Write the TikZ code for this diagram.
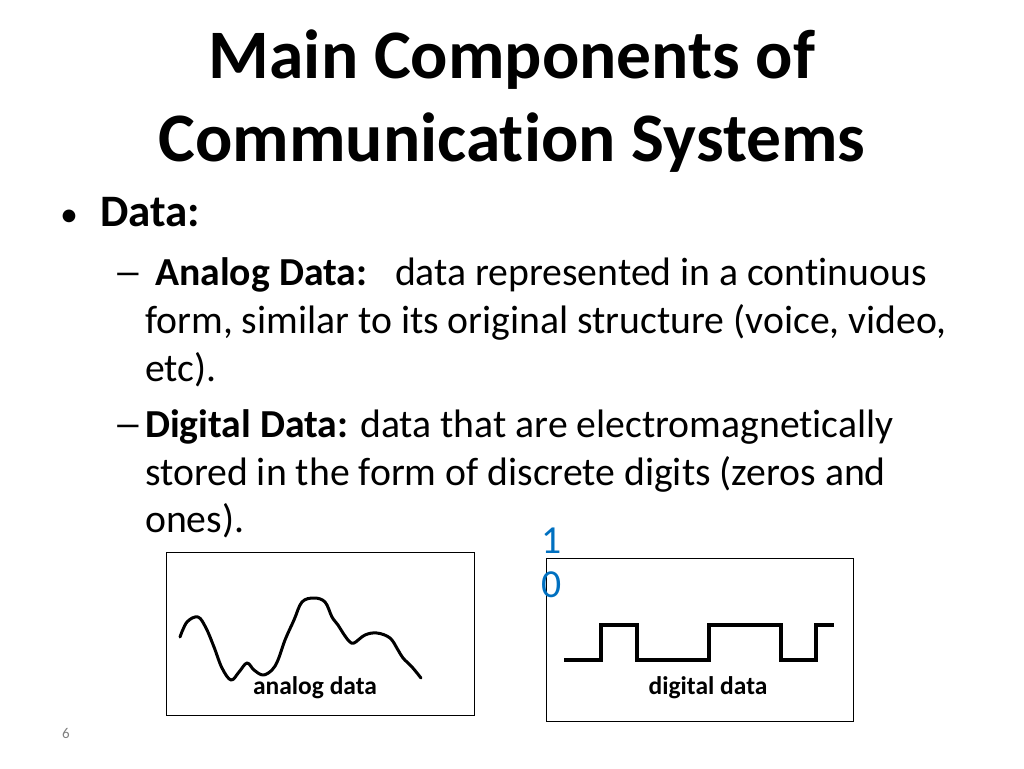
\documentclass[tikz,border=0pt]{standalone}
\usepackage{fontspec}
\setmainfont[RawFeature=-liga]{Carlito}
\definecolor{numblue}{RGB}{0,112,192}
\begin{document}
\begin{tikzpicture}[x=1pt,y=-1pt,
  ln/.style={anchor=base west,inner sep=0pt,font=\fontsize{39.7}{44}\selectfont},
  ttl/.style={anchor=base,inner sep=0pt,font=\fontsize{69.5}{76}\selectfont\bfseries},
  boxs/.style={draw,line width=1pt},
  lbl/.style={font=\fontsize{25.5}{28}\selectfont\bfseries,inner sep=0pt}]
\useasboundingbox (0,0) rectangle (1024,768);
\node[ttl] (t1) at (512,78) {Main Components of};
\node[ttl] (t2) at (512,161) {Communication Systems};
\node[ln,font=\fontsize{36}{40}\selectfont] (b1) at (60,226) {•};
\node[ln,font=\fontsize{45}{48}\selectfont\bfseries] (d) at (100,226) {Data:};
\node[ln] (a0) at (113,285) {\scalebox{1.5}[1]{–}};
\node[ln] (a1) at (155,285) {\textbf{Analog Data:}\hspace{0.7em}data represented in a continuous};
\node[ln] (a2) at (145,333) {form, similar to its original structure (voice, video,};
\node[ln] (a3) at (145,381) {etc).};
\node[ln] (g0) at (113,437) {\scalebox{1.5}[1]{–}};
\node[ln] (g1) at (145,437) {\textbf{Digital Data:} data that are electromagnetically};
\node[ln] (g2) at (145,485) {stored in the form of discrete digits (zeros and};
\node[ln] (g3) at (145,532) {ones).};
\node[boxs,minimum width=308,minimum height=163,anchor=north west,inner sep=0pt] (ab) at (166,552) {};
\node[boxs,minimum width=307,minimum height=163,anchor=north west,inner sep=0pt] (db) at (546,558) {};
\draw[line width=3pt,line join=round,line cap=round] plot[smooth,tension=0.6] coordinates{(180,637)(187,622)(198,617)(206,628)(214,647)(222,668)(231,680)(239,672)(247,663)(254,670)(263,675)(272,670)(278,660)(285,640)(294,620)(302,602)(314,598)(325,602)(332,617)(338,625)(343,633)(349,641)(354,643)(365,635)(377,633)(390,638)(398,650)(403,658)(412,667)(421,678)};
\draw[line width=3.5pt] (564,660) -- (601,660) -- (601,625) -- (637,625) -- (637,660) -- (709,660) -- (709,625) -- (781,625) -- (781,660) -- (816,660) -- (816,625) -- (834,625);
\node[lbl] (al) at (315,688) {analog data};
\node[lbl] (dl) at (708,688) {digital data};
\node[ln,text=numblue] (n1) at (541,553) {1};
\node[ln,text=numblue] (n0) at (541,597) {0};
\node[font=\fontsize{15}{16}\selectfont,text=gray] (pg) at (66,733) {6};
\end{tikzpicture}
\end{document}
